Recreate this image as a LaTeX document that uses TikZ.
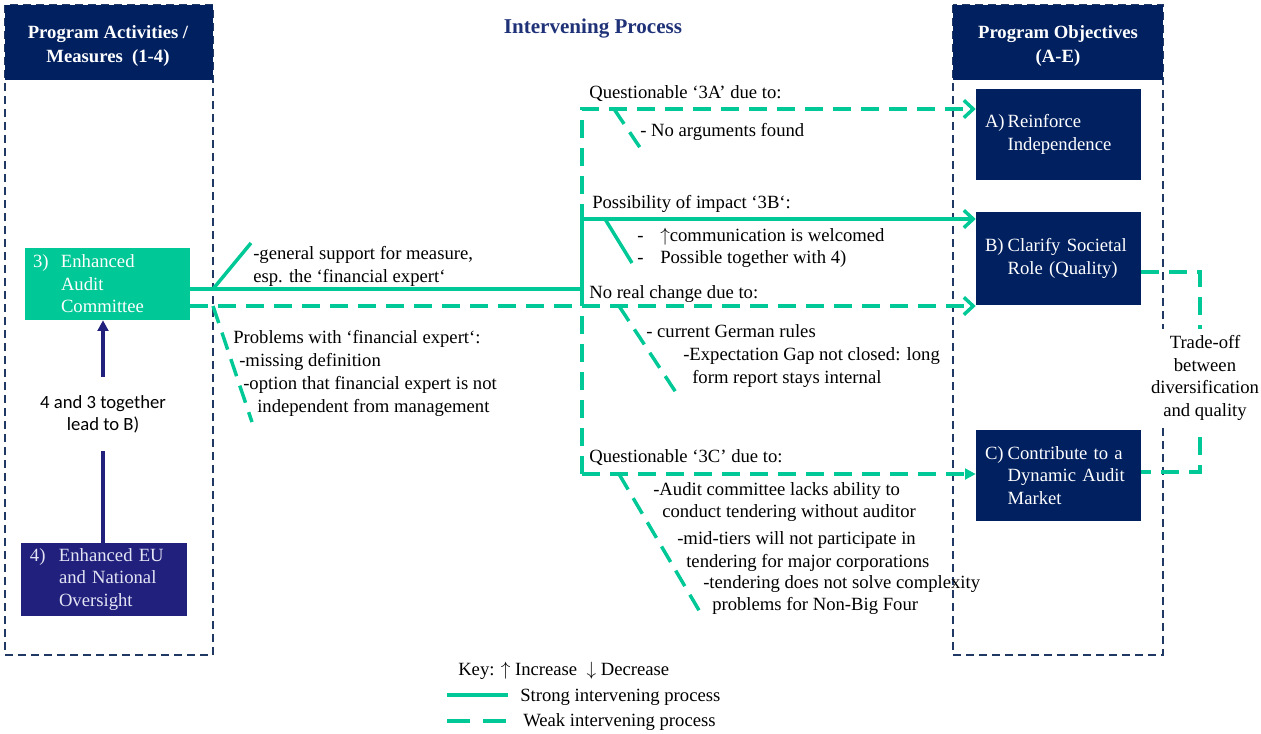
\documentclass[tikz,border=0pt]{standalone}
\usepackage{fontspec}
\setmainfont{Liberation Serif}
\newfontfamily\labelsans{Carlito}
\usetikzlibrary{arrows.meta}

\definecolor{navy}{RGB}{0,32,96}
\definecolor{navytwo}{RGB}{33,33,125}
\definecolor{lavtext}{RGB}{228,228,245}
\definecolor{framecol}{RGB}{32,56,100}
\definecolor{titlecol}{RGB}{31,50,120}
\definecolor{procgreen}{RGB}{0,200,150}

\begin{document}
\begin{tikzpicture}[x=0.75pt,y=-0.75pt,
  frame/.style={draw=framecol, line width=1.5pt, dash pattern=on 6pt off 3.75pt},
  hdr/.style={fill=navy, minimum height=56.25pt, inner sep=0pt},
  hdrtext/.style={text=white, font=\bfseries\fontsize{14}{18}\selectfont, align=center, inner sep=0pt},
  boxtext/.style={font=\fontsize{14}{16.9}\selectfont, align=left, inner ysep=0pt},
  txt/.style={anchor=west, inner sep=0pt, font=\fontsize{14}{17}\selectfont,
    text height=9.5pt, text depth=3pt},
  strongline/.style={draw=procgreen, line width=3pt},
  weakline/.style={draw=procgreen, line width=3pt, dash pattern=on 13.5pt off 7.5pt},
  barb/.style={-{Straight Barb[length=7pt,width=13pt,line width=2.6pt]}},
  tri/.style={-{Triangle[length=8pt,width=8pt]}},
  navyline/.style={draw=navytwo, line width=2.6pt}
]
\useasboundingbox (0,0) rectangle (1261,733);

% dashed column frames
\draw[frame] (5,5) rectangle (213,655);
\draw[frame] (953,5) rectangle (1163,655);

% column headers and title
\node[hdr, minimum width=156pt] (hL) at (109,42.5) {};
\node[hdrtext] (hLt) at (108,46) {Program Activities /\\Measures\ \ (1-4)};
\node[hdr, minimum width=157.5pt] (hR) at (1058,42.5) {};
\node[hdrtext] (hRt) at (1058,46) {Program Objectives\\(A-E)};
\node[font=\bfseries\fontsize{15.8}{19}\selectfont, text=titlecol, inner sep=0pt] (title) at (593,29) {Intervening Process};

% program measures
\node[boxtext, fill=procgreen, text=white, minimum width=123.75pt, minimum height=54pt,
  text width=111.75pt, inner xsep=6pt] (c3) at (107.5,284)
  {\makebox[21pt][l]{3)}Enhanced\\\hspace*{21pt}Audit\\\hspace*{21pt}Committee};
\node[boxtext, fill=navytwo, text=lavtext, minimum width=124.5pt, minimum height=54.75pt,
  text width=111pt, inner xsep=6.75pt] (c4) at (104,579.5)
  {\makebox[21.75pt][l]{4)}Enhanced EU\\\hspace*{21.75pt}and National\\\hspace*{21.75pt}Oversight};

% program objectives
\node[boxtext, fill=navy, text=white, minimum width=123.75pt, minimum height=68.25pt,
  text width=110.25pt, inner xsep=6.75pt] (cA) at (1058.5,134.5)
  {\makebox[17pt][l]{A)}Reinforce\\\hspace*{17pt}Independence};
\node[boxtext, fill=navy, text=white, minimum width=123.75pt, minimum height=69.75pt,
  text width=110.25pt, inner xsep=6.75pt] (cB) at (1058.5,258.5)
  {\makebox[17pt][l]{B)}Clarify Societal\\\hspace*{17pt}Role (Quality)};
\node[boxtext, fill=navy, text=white, minimum width=123.75pt, minimum height=68.25pt,
  text width=110.25pt, inner xsep=6.75pt] (cC) at (1058.5,475.5)
  {\makebox[17pt][l]{C)}Contribute to a\\\hspace*{17pt}Dynamic Audit\\\hspace*{17pt}Market};

% measure 4 feeds measure 3
\node[font=\labelsans\fontsize{14}{16.5}\selectfont, align=center, fill=white,
  minimum height=54.75pt, inner xsep=2pt] (lbl43) at (103,414) {4 and 3 together\\lead to B)};
\draw[navyline] (lbl43.south |- c4.north) -- (lbl43.south);
\draw[navyline, tri] (lbl43.north) -- (lbl43.north |- c3.south);

% junctions of the intervening paths
\coordinate (jA) at (582,109);
\coordinate (jB) at (582,219);
\coordinate (jS) at (582,289);
\coordinate (jW) at (582,306);
\coordinate (jC) at (582,474);

% strong path to B
\draw[strongline, barb] (c3.east |- jS) -- (jS) |- (cB.west |- jB);
% weak paths
\draw[weakline, barb] (jC) -- (jA) -- (cA.west |- jA);
\draw[weakline, barb] (c3.east |- jW) -- (cB.west |- jW);
\draw[weakline, tri] (jC) -- (cC.west |- jC);

% callout strokes
\coordinate (g1) at (213,289); \coordinate (g2) at (251,243);
\draw[strongline, line width=2.6pt] (g1) -- (g2);
\coordinate (p1) at (213,306); \coordinate (p2) at (252,422);
\draw[weakline, line width=2.6pt] (p1) -- (p2);
\coordinate (a1) at (614,109); \coordinate (a2) at (645,155);
\draw[weakline, line width=2.6pt] (a1) -- (a2);
\coordinate (b1) at (605,219); \coordinate (b2) at (632,263);
\draw[strongline, line width=2.6pt] (b1) -- (b2);
\coordinate (n1) at (619,306); \coordinate (n2) at (677,394);
\draw[weakline, line width=2.6pt] (n1) -- (n2);
\coordinate (q1) at (619,474); \coordinate (q2) at (700,612);
\draw[weakline, line width=2.6pt] (q1) -- (q2);

% callout texts
\node[txt] (gs1) at (253,255) {-general support for measure,};
\node[txt] (gs2) at (253,278) {esp. the ‘financial expert‘};

\node[txt] (pr1) at (233,339) {Problems with ‘financial expert‘:};
\node[txt] (pr2) at (239,362) {-missing definition};
\node[txt] (pr3) at (243,385) {-option that financial expert is not};
\node[txt] (pr4) at (257,408) {independent from management};

\node[txt] (qa0) at (589,94) {Questionable ‘3A’ due to:};
\node[txt] (qa1) at (640,132) {- No arguments found};

\node[txt] (pb0) at (592,204) {Possibility of impact ‘3B‘:};
\node[txt] (pb1d) at (637,237) {-};
\node[txt] (pb1) at (660,237) {$\uparrow$communication is welcomed};
\node[txt] (pb2d) at (637,259) {-};
\node[txt] (pb2) at (660,259) {Possible together with 4)};

\node[txt] (nc0) at (589,294) {No real change due to:};
\node[txt] (nc1) at (646,333) {- current German rules};
\node[txt] (nc2) at (683,356) {-Expectation Gap not closed: long};
\node[txt] (nc3) at (692,379) {form report stays internal};

\node[txt] (qc0) at (589,458) {Questionable ‘3C’ due to:};
\node[txt] (qc1) at (653,491) {-Audit committee lacks ability to};
\node[txt] (qc2) at (662,513) {conduct tendering without auditor};
\node[txt] (qc3) at (677,540) {-mid-tiers will not participate in};
\node[txt] (qc4) at (686,563) {tendering for major corporations};
\node[txt] (qc5) at (703,584) {-tendering does not solve complexity};
\node[txt] (qc6) at (712,606) {problems for Non-Big Four};

% trade-off between B and C
\coordinate (tB) at (1200,272);
\coordinate (tC) at (1200,472);
\draw[weakline] (cB.east |- tB) -- (tB) -- (tC) -- (cC.east |- tC);
\node[align=center, fill=white, inner xsep=1pt, inner ysep=0pt, minimum height=73.5pt,
  font=\fontsize{14}{17}\selectfont] (trade) at (1205,378)
  {Trade-off\\between\\diversification\\and quality};

% key
\node[txt] (key) at (458,671) {Key: $\uparrow$ Increase\ \ $\downarrow$ Decrease};
\coordinate (ks1) at (447,695); \coordinate (ks2) at (508,695);
\draw[strongline] (ks1) -- (ks2);
\node[txt] (kstrong) at (520,697) {Strong intervening process};
\coordinate (kw1) at (447,721); \coordinate (kw2) at (510,721);
\draw[weakline, dash pattern=on 17pt off 10pt] (kw1) -- (kw2);
\node[txt] (kweak) at (523,722) {Weak intervening process};
\end{tikzpicture}
\end{document}
